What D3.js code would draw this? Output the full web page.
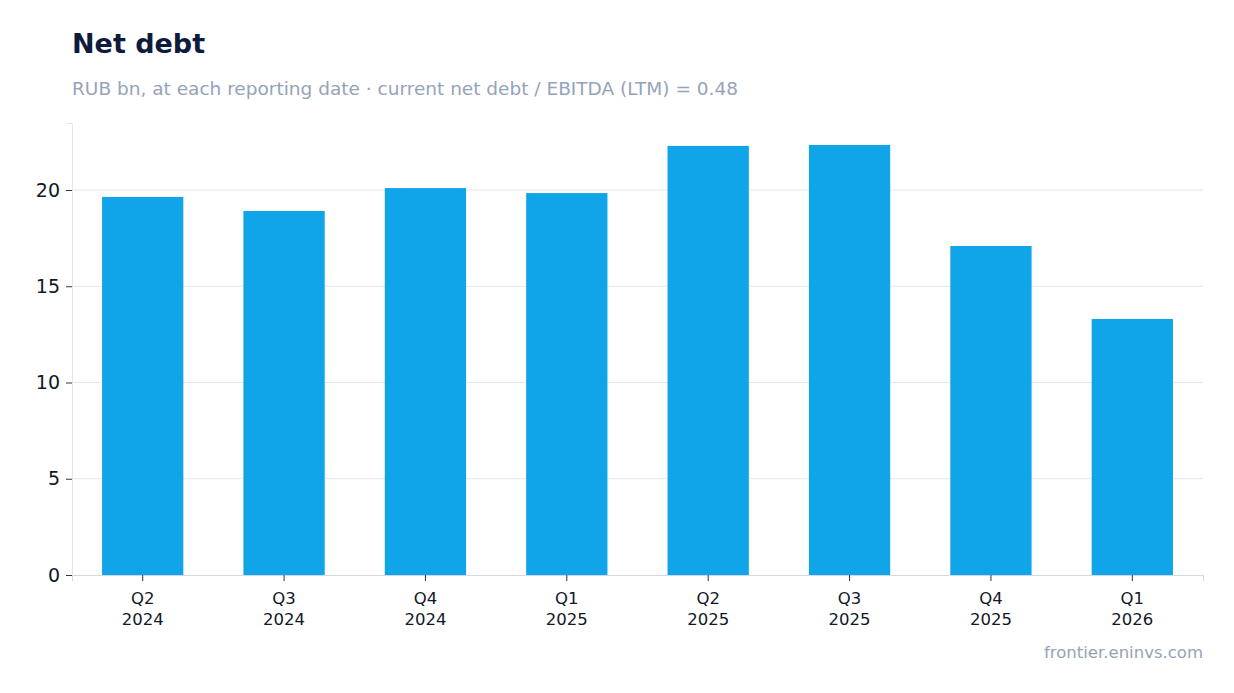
<!DOCTYPE html>
<html lang="en">
<head>
<meta charset="UTF-8">
<title>Net debt</title>
<script src="https://cdnjs.cloudflare.com/ajax/libs/d3/7.8.5/d3.min.js"></script>
<style>
  body { margin: 0; background: #fff; font-family: "DejaVu Sans", sans-serif; }
</style>
</head>
<body>
<svg width="1234" height="693"></svg>
<script>
    const quarters = ["Q2", "Q3", "Q4", "Q1", "Q2", "Q3", "Q4", "Q1"];
    const years = ["2024", "2024", "2024", "2025", "2025", "2025", "2025", "2026"];
    const netDebt = [19.64, 18.91, 20.10, 19.84, 22.29, 22.34, 17.09, 13.30];
    const yTicks = [0, 5, 10, 15, 20];

    const svg = d3.select("svg");
    const plotLeft = 72, plotRight = 1203, plotTop = 123, plotBottom = 575;
    const labels = quarters.map((q, i) => q + " " + years[i] + "#" + i);

    const x = d3.scaleBand().domain(labels).range([plotLeft, plotRight]).paddingInner(0.425).paddingOuter(0.2125);
    const y = d3.scaleLinear().domain([0, 23.48]).range([plotBottom, plotTop]);

    svg.append("text").attr("x", 72).attr("y", 53)
        .attr("font-size", 27).attr("font-weight", "bold").attr("fill", "#0f1b3d").text("Net debt");
    svg.append("text").attr("x", 72).attr("y", 95)
        .attr("font-size", 18.5).attr("fill", "#94a3b8")
        .text("RUB bn, at each reporting date · current net debt / EBITDA (LTM) = 0.48");

    // grid
    svg.append("g").selectAll("line").data(yTicks.filter(d => d > 0)).enter().append("line")
        .attr("x1", plotLeft).attr("x2", plotRight).attr("y1", d => y(d)).attr("y2", d => y(d))
        .attr("stroke", "#e2e6f0").attr("stroke-width", 1.2);

    svg.append("g").selectAll("rect").data(netDebt).enter().append("rect")
        .attr("x", (d, i) => x(labels[i])).attr("width", x.bandwidth())
        .attr("y", d => y(d)).attr("height", d => y(0) - y(d))
        .attr("fill", "#10a5e8");

    const yAxis = svg.append("g").attr("transform", `translate(${plotLeft},0)`)
        .call(d3.axisLeft(y).tickValues(yTicks).tickSize(6).tickPadding(6));
    yAxis.selectAll("text").attr("font-size", 19).attr("fill", "#111827").attr("font-family", "DejaVu Sans");
    yAxis.select(".domain").attr("stroke", "#e2e6f0");
    yAxis.selectAll(".tick line").attr("stroke", "#333");

    const xAxis = svg.append("g").attr("transform", `translate(0,${plotBottom})`)
        .call(d3.axisBottom(x).tickSize(6).tickFormat(""));
    xAxis.select(".domain").attr("stroke", "#d4d8e4");
    xAxis.selectAll(".tick line").attr("stroke", "#333");
    xAxis.selectAll(".tick").each(function(d, i) {
        const t = d3.select(this).append("text").attr("fill", "#111827")
            .attr("font-size", 16.5).attr("text-anchor", "middle").attr("font-family", "DejaVu Sans");
        t.append("tspan").attr("x", 0).attr("y", 29).text(quarters[i]);
        t.append("tspan").attr("x", 0).attr("y", 50).text(years[i]);
    });

    svg.append("text").attr("x", 1203).attr("y", 658).attr("text-anchor", "end")
        .attr("font-size", 16.5).attr("fill", "#94a3b8").text("frontier.eninvs.com");
</script>
</body>
</html>
